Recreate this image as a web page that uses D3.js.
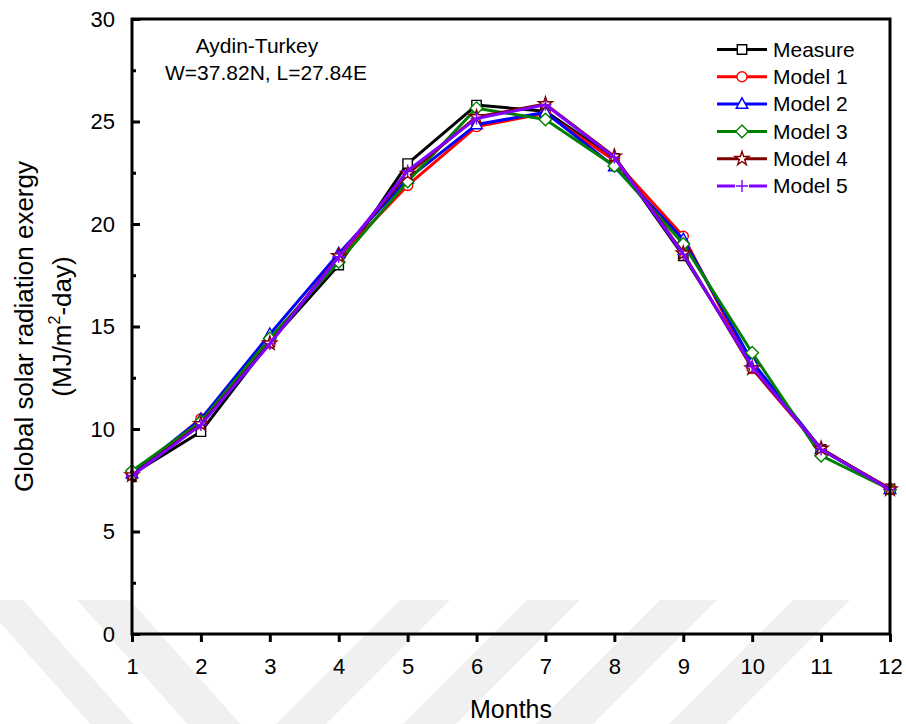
<!DOCTYPE html>
<html>
<head>
<meta charset="utf-8">
<script src="https://cdn.jsdelivr.net/npm/d3@7"></script>
<style>
  body { margin: 0; background: #fff; }
  svg { display: block; }
  text { font-family: "Liberation Sans", Arial, sans-serif; fill: #000; }
</style>
</head>
<body>
<script>
// Monthly global solar radiation exergy, Aydin (Turkey): measured vs. five models
const months = [1, 2, 3, 4, 5, 6, 7, 8, 9, 10, 11, 12];
const measure = [7.8, 9.87, 14.25, 18.0, 22.95, 25.8, 25.5, 23.2, 18.45, 13.12, 9.0, 7.08];
const model1  = [7.75, 10.5, 14.2, 18.37, 21.88, 24.75, 25.4, 23.1, 19.4, 12.95, 9.0, 7.1];
const model2  = [7.82, 10.48, 14.62, 18.56, 22.2, 24.85, 25.45, 22.8, 19.25, 13.28, 9.02, 7.06];
const model3  = [7.95, 10.36, 14.42, 18.15, 22.08, 25.65, 25.1, 22.83, 19.02, 13.72, 8.7, 7.05];
const model4  = [7.75, 10.24, 14.18, 18.44, 22.45, 25.22, 25.85, 23.3, 18.57, 12.96, 9.05, 7.06];
const model5  = [7.72, 10.2, 14.15, 18.4, 22.6, 25.15, 25.82, 23.25, 18.52, 13.04, 9.0, 7.05];

const seriesNames = ["Measure", "Model 1", "Model 2", "Model 3", "Model 4", "Model 5"];
const seriesValues = [measure, model1, model2, model3, model4, model5];
const seriesColors = ["#000000", "#ff0000", "#0000ff", "#008000", "#800000", "#8000ff"];
const seriesSymbols = ["square", "circle", "triangle", "diamond", "star", "plus"];

const yMajorTicks = [0, 5, 10, 15, 20, 25, 30];
const yMinorTicks = [2.5, 7.5, 12.5, 17.5, 22.5, 27.5];
const xTickLabels = months;

const W = 906, H = 724;
const plot = { left: 132, right: 890, top: 19, bottom: 634 };

const svg = d3.select("body").append("svg")
  .attr("width", W).attr("height", H)
  .attr("viewBox", `0 0 ${W} ${H}`);

// faint diagonal watermark bands behind the chart
const wm = svg.append("g").attr("fill", "#f0f0f0");
const bandTop = 600, bandBottom = H;
const drop = bandBottom - bandTop;
[[-20, 23], [77, 130]].forEach(([a, b]) => {
  const s = 0.89 * drop;
  wm.append("polygon").attr("points",
    `${a},${bandTop} ${b},${bandTop} ${b + s},${bandBottom} ${a + s},${bandBottom}`);
});
[[400, 450], [527, 580], [660, 717], [793, 850]].forEach(([a, b]) => {
  const s = 1.0 * drop;
  wm.append("polygon").attr("points",
    `${a},${bandTop} ${b},${bandTop} ${b - s},${bandBottom} ${a - s},${bandBottom}`);
});

const x = d3.scaleLinear().domain([1, 12]).range([plot.left, plot.right]);
const y = d3.scaleLinear().domain([0, 30]).range([plot.bottom, plot.top]);

// marker shapes
function symbolPath(kind) {
  switch (kind) {
    case "square": return "M-4.7,-4.7H4.7V4.7H-4.7Z";
    case "circle": return d3.symbol(d3.symbolCircle, 80)();
    case "triangle": return "M0,-6.3L5.8,4.2H-5.8Z";
    case "diamond": return "M0,-6.3L6.3,0L0,6.3L-6.3,0Z";
    case "star": return d3.symbol(d3.symbolStar, 60)();
    case "plus": return "M-6,0H6M0,-6V6";
  }
}

const gPlot = svg.append("g");
seriesValues.forEach((vals, i) => {
  const color = seriesColors[i];
  const pts = months.map((m, k) => [m, vals[k]]);
  gPlot.append("path")
    .datum(pts)
    .attr("fill", "none")
    .attr("stroke", color)
    .attr("stroke-width", 3)
    .attr("stroke-linejoin", "round")
    .attr("d", d3.line().x(d => x(d[0])).y(d => y(d[1])));
  gPlot.append("g").selectAll("path")
    .data(pts)
    .join("path")
    .attr("transform", d => `translate(${x(d[0])},${y(d[1])})`)
    .attr("d", symbolPath(seriesSymbols[i]))
    .attr("fill", seriesSymbols[i] === "plus" ? "none" : "#fff")
    .attr("stroke", color)
    .attr("stroke-width", 1.4);
});

// axes
const axisFont = 22;
const yAxis = svg.append("g").attr("transform", `translate(${plot.left},0)`)
  .call(d3.axisLeft(y).tickValues(yMajorTicks).tickSizeInner(-8).tickSizeOuter(0).tickPadding(17));
const yMinor = svg.append("g").attr("transform", `translate(${plot.left},0)`)
  .call(d3.axisLeft(y).tickValues(yMinorTicks).tickFormat("").tickSizeInner(-4).tickSizeOuter(0));
const xAxis = svg.append("g").attr("transform", `translate(0,${plot.bottom})`)
  .call(d3.axisBottom(x).tickValues(xTickLabels).tickFormat(d3.format("d"))
    .tickSizeInner(8).tickSizeOuter(0).tickPadding(16));

[yAxis, yMinor, xAxis].forEach(g => {
  g.select(".domain").remove();
  g.selectAll(".tick line").attr("stroke", "#000").attr("stroke-width", 3);
  g.selectAll(".tick text")
    .attr("font-size", axisFont)
    .attr("font-family", '"Liberation Sans", Arial, sans-serif')
    .attr("fill", "#000");
});

// frame
svg.append("rect")
  .attr("x", plot.left).attr("y", plot.top)
  .attr("width", plot.right - plot.left).attr("height", plot.bottom - plot.top)
  .attr("fill", "none").attr("stroke", "#000").attr("stroke-width", 3);

// axis titles
svg.append("text")
  .attr("x", (plot.left + plot.right) / 2).attr("y", 718)
  .attr("text-anchor", "middle").attr("font-size", 25)
  .text("Months");

const yTitle = svg.append("g")
  .attr("transform", `translate(0,${(plot.top + plot.bottom) / 2}) rotate(-90)`);
yTitle.append("text")
  .attr("x", 0).attr("y", 33).attr("text-anchor", "middle").attr("font-size", 26)
  .text("Global solar radiation exergy");
const t2 = yTitle.append("text")
  .attr("x", 0).attr("y", 71).attr("text-anchor", "middle").attr("font-size", 26);
t2.append("tspan").text("(MJ/m");
t2.append("tspan").attr("font-size", 16).attr("dy", -11).text("2");
t2.append("tspan").attr("dy", 11).text("-day)");

// site annotation
svg.append("text").attr("x", 257).attr("y", 53).attr("text-anchor", "middle")
  .attr("font-size", 21).text("Aydin-Turkey");
svg.append("text").attr("x", 266).attr("y", 80).attr("text-anchor", "middle")
  .attr("font-size", 21).text("W=37.82N, L=27.84E");

// legend
const legend = svg.append("g").attr("transform", "translate(717,49.5)");
seriesNames.forEach((name, i) => {
  const row = legend.append("g").attr("transform", `translate(0,${i * 27.3})`);
  const color = seriesColors[i];
  if (seriesSymbols[i] === "plus") {
    row.append("path").attr("d", "M0,0H18M32,0H50")
      .attr("stroke", color).attr("stroke-width", 3);
  } else {
    row.append("line").attr("x1", 0).attr("x2", 50)
      .attr("stroke", color).attr("stroke-width", 3);
  }
  row.append("path").attr("transform", "translate(25,0)")
    .attr("d", symbolPath(seriesSymbols[i]))
    .attr("fill", seriesSymbols[i] === "plus" ? "none" : "#fff")
    .attr("stroke", color).attr("stroke-width", 1.4);
  row.append("text").attr("x", 56).attr("y", 0).attr("dy", "0.35em")
    .attr("font-size", 21).text(name);
});
</script>
</body>
</html>
